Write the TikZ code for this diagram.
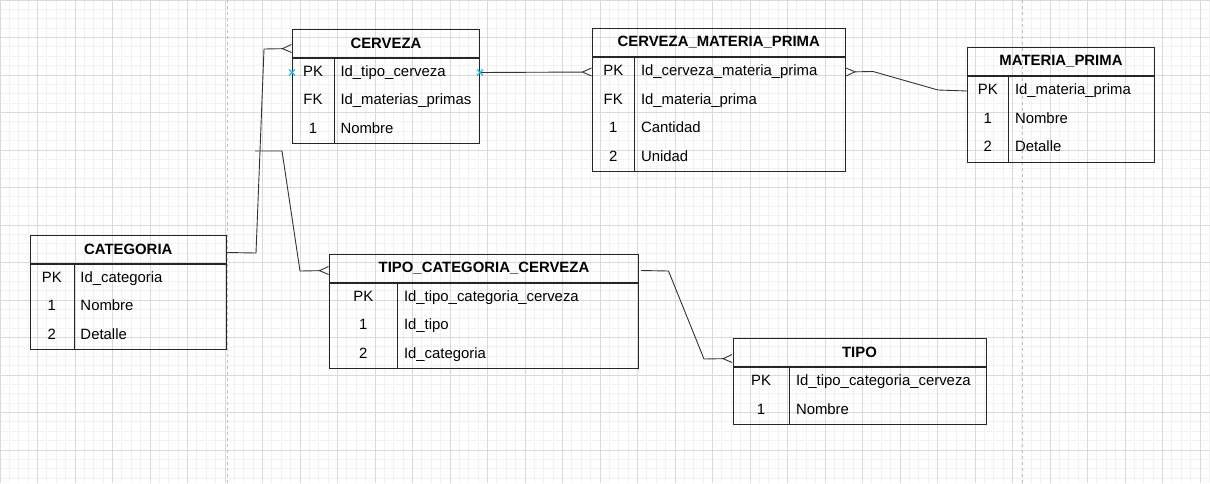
\documentclass[tikz,border=0pt]{standalone}
\usepackage{fontspec}
\setmainfont{Liberation Sans}
\usetikzlibrary{arrows.meta,shapes.misc}

\newcommand\letra{\fontsize{14.9}{17}\selectfont}
\definecolor{marcaazul}{RGB}{41,182,242}

\tikzset{
  tabla/.style={draw=black!85, line width=1pt},
  cabecera/.style={tabla, minimum height=28pt, inner sep=0pt, font=\letra\bfseries},
  clave/.style={minimum height=28pt, inner sep=0pt, text height=10.5pt, text depth=3pt},
  campo/.style={minimum height=28pt, inner xsep=7pt, inner ysep=0pt, text height=10.5pt, text depth=3pt, align=left},
  rel/.style={draw=black!80, line width=0.9pt},
  pata/.tip={Straight Barb[reversed, length=9pt, width=8pt]},
  marca/.style={cross out, draw=marcaazul, line width=1.1pt, minimum size=5pt, inner sep=0pt}
}

\begin{document}
\begin{tikzpicture}[x=1pt, y=-1pt, font=\letra]
\useasboundingbox (0,0) rectangle (1210,483);
\draw[step=9.375pt, color=black!5, line width=0.8pt] (0,0) grid (1210,483);
\draw[step=37.5pt, color=black!15, line width=0.8pt] (0,0) grid (1210,483);
\draw[color=black!25, dash pattern=on 3pt off 3pt, line width=0.8pt] (227,0) -- (227,483) (1022.5,0) -- (1022.5,483);

% CATEGORIA
\node [matrix,ampersand replacement=\&,tabla,inner sep=0pt,anchor=north west,
  column 1/.style={nodes={clave,minimum width=43.5pt}},
  column 2/.style={nodes={campo,text width=138.5pt}}] (categoria) at (29.5,263.5)
    {
        \node (categoria-1-1) {PK}; \& \node (categoria-1-2) {Id\_categoria}; \\
        \node (categoria-2-1) {1}; \& \node (categoria-2-2) {Nombre}; \\
        \node (categoria-3-1) {2}; \& \node (categoria-3-2) {Detalle}; \\
};
\node[cabecera, minimum width=196.5pt, anchor=south west] (categoria-h) at (categoria.north west) {CATEGORIA};
\draw[tabla] (categoria-1-1.north east) -- (categoria-3-1.south east);

% CERVEZA
\node [matrix,ampersand replacement=\&,tabla,inner sep=0pt,anchor=north west,
  column 1/.style={nodes={clave,minimum width=41pt}},
  column 2/.style={nodes={campo,text width=132pt}}] (cerveza) at (292,57.5)
    {
        \node (cerveza-1-1) {PK}; \& \node (cerveza-1-2) {Id\_tipo\_cerveza}; \\
        \node (cerveza-2-1) {FK}; \& \node (cerveza-2-2) {Id\_materias\_primas}; \\
        \node (cerveza-3-1) {1}; \& \node (cerveza-3-2) {Nombre}; \\
};
\node[cabecera, minimum width=187pt, anchor=south west] (cerveza-h) at (cerveza.north west) {CERVEZA};
\draw[tabla] (cerveza-1-1.north east) -- (cerveza-3-1.south east);

% CERVEZA_MATERIA_PRIMA
\node [matrix,ampersand replacement=\&,tabla,inner sep=0pt,anchor=north west,
  column 1/.style={nodes={clave,minimum width=41.5pt}},
  column 2/.style={nodes={campo,text width=197pt}}] (cmp) at (592,57)
    {
        \node (cmp-1-1) {PK}; \& \node (cmp-1-2) {Id\_cerveza\_materia\_prima}; \\
        \node (cmp-2-1) {FK}; \& \node (cmp-2-2) {Id\_materia\_prima}; \\
        \node (cmp-3-1) {1}; \& \node (cmp-3-2) {Cantidad}; \\
        \node (cmp-4-1) {2}; \& \node (cmp-4-2) {Unidad}; \\
};
\node[cabecera, minimum width=252.5pt, anchor=south west] (cmp-h) at (cmp.north west) {CERVEZA\_MATERIA\_PRIMA};
\draw[tabla] (cmp-1-1.north east) -- (cmp-4-1.south east);

% MATERIA_PRIMA
\node [matrix,ampersand replacement=\&,tabla,inner sep=0pt,anchor=north west,
  column 1/.style={nodes={clave,minimum width=40.5pt}},
  column 2/.style={nodes={campo,text width=132.5pt}}] (mp) at (967,76)
    {
        \node (mp-1-1) {PK}; \& \node (mp-1-2) {Id\_materia\_prima}; \\
        \node (mp-2-1) {1}; \& \node (mp-2-2) {Nombre}; \\
        \node (mp-3-1) {2}; \& \node (mp-3-2) {Detalle}; \\
};
\node[cabecera, minimum width=187pt, anchor=south west] (mp-h) at (mp.north west) {MATERIA\_PRIMA};
\draw[tabla] (mp-1-1.north east) -- (mp-3-1.south east);

% TIPO_CATEGORIA_CERVEZA
\node [matrix,ampersand replacement=\&,tabla,inner sep=0pt,anchor=north west,
  column 1/.style={nodes={clave,minimum width=67.5pt}},
  column 2/.style={nodes={campo,text width=227.5pt}}] (tcc) at (329,282.5)
    {
        \node (tcc-1-1) {PK}; \& \node (tcc-1-2) {Id\_tipo\_categoria\_cerveza}; \\
        \node (tcc-2-1) {1}; \& \node (tcc-2-2) {Id\_tipo}; \\
        \node (tcc-3-1) {2}; \& \node (tcc-3-2) {Id\_categoria}; \\
};
\node[cabecera, minimum width=309pt, anchor=south west] (tcc-h) at (tcc.north west) {TIPO\_CATEGORIA\_CERVEZA};
\draw[tabla] (tcc-1-1.north east) -- (tcc-3-1.south east);

% TIPO
\node [matrix,ampersand replacement=\&,tabla,inner sep=0pt,anchor=north west,
  column 1/.style={nodes={clave,minimum width=56pt}},
  column 2/.style={nodes={campo,text width=183pt}}] (tipo) at (732.5,367)
    {
        \node (tipo-1-1) {PK}; \& \node (tipo-1-2) {Id\_tipo\_categoria\_cerveza}; \\
        \node (tipo-2-1) {1}; \& \node (tipo-2-2) {Nombre}; \\
};
\node[cabecera, minimum width=253pt, anchor=south west] (tipo-h) at (tipo.north west) {TIPO};
\draw[tabla] (tipo-1-1.north east) -- (tipo-2-1.south east);

% relaciones
\coordinate (suelto) at (255,151);
\draw[rel,-{pata}] ([yshift=-3.5pt]categoria-h.east) -- (256,253) -- (264,49) -- ([yshift=-5.5pt]cerveza-h.west);
\draw[rel,-{pata}] (suelto) -- (282,151) -- (300,271) -- ([yshift=-2.5pt]tcc-h.west);
\draw[rel,-{pata}] (cerveza-1-2.east) -- (cmp-1-1.west);
\draw[rel,{pata}-] (cmp-1-2.east) -- (873,71.5) -- (938,90) -- (mp-1-1.west);
\draw[rel,-{pata}] ([xshift=2pt,yshift=-2.5pt]tcc-h.east) -- (668.5,271) -- (704,359) -- ([yshift=-6pt]tipo-h.west);
\node[marca] (m1) at (cerveza-1-1.west) {};
\node[marca] (m2) at (cerveza-1-2.east) {};
\end{tikzpicture}
\end{document}
